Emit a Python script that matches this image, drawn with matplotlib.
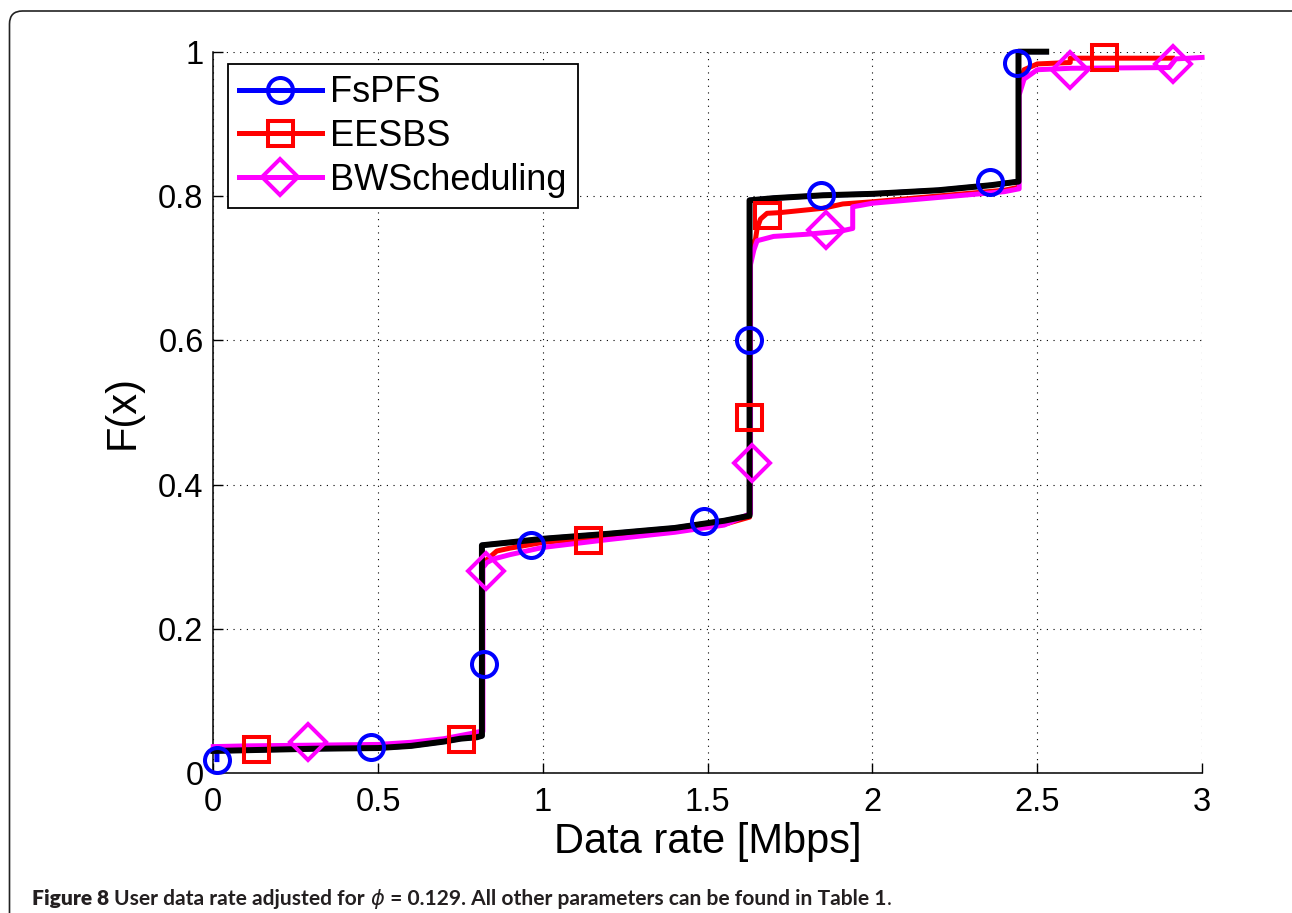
import matplotlib
matplotlib.use("Agg")
import matplotlib.pyplot as plt
from matplotlib import font_manager
from matplotlib.lines import Line2D
from matplotlib.patches import PathPatch
from matplotlib.path import Path
from matplotlib.transforms import IdentityTransform
from matplotlib.ticker import FuncFormatter

plt.rcParams["font.family"] = ["Liberation Sans", "DejaVu Sans"]

# black reference curve (drawn over the FsPFS line)
black_x = [0, 0.1, 0.3, 0.5, 0.6, 0.7, 0.75, 0.8, 0.815, 0.815, 0.9, 1.0, 1.2, 1.4,
           1.55, 1.627, 1.627, 1.7, 1.85, 2.0, 2.2, 2.36, 2.443, 2.443, 2.527]
black_y = [0.031, 0.032, 0.034, 0.035, 0.038, 0.044, 0.048, 0.05, 0.052, 0.316, 0.32,
           0.325, 0.332, 0.34, 0.35, 0.357, 0.794, 0.797, 0.801, 0.803, 0.808, 0.815,
           0.82, 1.0, 1.0]

fspfs_x = [0.011, 0.011] + black_x[1:]
fspfs_y = [0.019, 0.031] + black_y[1:]
fspfs_mx = [0.011, 0.479, 0.822, 0.964, 1.488, 1.625, 1.845, 2.358, 2.438]
fspfs_my = [0.019, 0.037, 0.152, 0.316, 0.349, 0.601, 0.802, 0.819, 0.985]

eesbs_x = [0, 0.1, 0.3, 0.5, 0.6, 0.7, 0.78, 0.815, 0.815, 0.84, 0.86, 0.9, 1.0, 1.2,
           1.4, 1.55, 1.627, 1.627, 1.645, 1.65, 1.66, 1.68, 1.72, 1.85, 1.91, 2.0,
           2.2, 2.4, 2.443, 2.443, 2.46, 2.5, 2.6, 2.6, 2.91]
eesbs_y = [0.033, 0.034, 0.036, 0.038, 0.041, 0.046, 0.052, 0.055, 0.29, 0.30, 0.308,
           0.312, 0.32, 0.328, 0.336, 0.345, 0.355, 0.728, 0.74, 0.755, 0.768, 0.776,
           0.777, 0.783, 0.789, 0.792, 0.8, 0.808, 0.812, 0.95, 0.975, 0.983, 0.985,
           0.991, 0.991]
eesbs_mx = [0.130, 0.75, 1.136, 1.625, 1.681, 2.703]
eesbs_my = [0.034, 0.048, 0.323, 0.494, 0.774, 0.993]

bws_x = [0, 0.1, 0.3, 0.5, 0.6, 0.7, 0.78, 0.81, 0.818, 0.818, 0.83, 0.85, 0.9, 1.0,
         1.2, 1.4, 1.55, 1.63, 1.63, 1.64, 1.65, 1.7, 1.8, 1.9, 1.94, 1.94, 2.0, 2.2,
         2.4, 2.445, 2.445, 2.46, 2.5, 2.6, 2.9, 2.92, 3.0]
bws_y = [0.037, 0.038, 0.039, 0.040, 0.043, 0.048, 0.055, 0.058, 0.058, 0.285, 0.292,
         0.297, 0.303, 0.313, 0.324, 0.334, 0.344, 0.36, 0.705, 0.725, 0.738, 0.744,
         0.747, 0.751, 0.755, 0.785, 0.79, 0.798, 0.806, 0.81, 0.94, 0.962, 0.975,
         0.977, 0.978, 0.99, 0.992]
bws_mx = [0.287, 0.827, 1.635, 1.858, 2.598, 2.913]
bws_my = [0.043, 0.281, 0.43, 0.753, 0.975, 0.983]

x_ticks = [0, 0.5, 1, 1.5, 2, 2.5, 3]
y_ticks = [0, 0.2, 0.4, 0.6, 0.8, 1]

series = [
    ("FsPFS", "blue", "o", fspfs_x, fspfs_y, fspfs_mx, fspfs_my),
    ("EESBS", "red", "s", eesbs_x, eesbs_y, eesbs_mx, eesbs_my),
    ("BWScheduling", "magenta", "D", bws_x, bws_y, bws_mx, bws_my),
]

fig = plt.figure(figsize=(12.92, 9.13), dpi=100)
ax = fig.add_axes([0.1651, 0.1530, 0.7653, 0.7904])

lw = 3.6
ms = 18
mew = 2.9
handles = []
for name, col, mk, xs, ys, mx, my in series:
    ax.plot(xs, ys, color=col, lw=lw, zorder=3, clip_on=False)
    ax.plot(mx, my, ls="none", marker=mk, ms=ms, mfc="none", mec=col, mew=mew,
            zorder=5, clip_on=False)
    handles.append(Line2D([], [], color=col, lw=lw, marker=mk, ms=ms, mfc="none",
                          mec=col, mew=mew, label=name))
ax.plot(black_x, black_y, color="black", lw=4.3, zorder=4, clip_on=False)

ax.set_xlim(0, 3)
ax.set_ylim(0, 1)
ax.set_xticks(x_ticks)
ax.set_yticks(y_ticks)
fmt = FuncFormatter(lambda v, p: f"{v:g}")
ax.xaxis.set_major_formatter(fmt)
ax.yaxis.set_major_formatter(fmt)
ax.tick_params(direction="in", length=7, width=1, labelsize=23.5, top=False, right=False)
ax.tick_params(axis="x", pad=10)
ax.tick_params(axis="y", pad=7)
for s in ["top", "right"]:
    ax.spines[s].set_visible(False)
for s in ["left", "bottom"]:
    ax.spines[s].set_linewidth(1.1)
ax.grid(True, color="black", ls=(0, (1, 5)), lw=0.8)
ax.set_axisbelow(True)

ax.set_xlabel("Data rate [Mbps]", fontsize=30, labelpad=3)
ax.set_ylabel("F(x)", fontsize=30, labelpad=11)

leg = ax.legend(handles=handles, loc="upper left", bbox_to_anchor=(0.0148, 0.9824),
                borderaxespad=0, fontsize=26, numpoints=1, handlelength=2.3,
                handletextpad=0.24, labelspacing=0.24, borderpad=0.3, fancybox=False,
                framealpha=1, edgecolor="black")
leg.get_frame().set_linewidth(1.3)
leg.set_zorder(10)

# rounded frame around the figure, in pixels (origin bottom-left)
fx0, fx1, ftop, r = 9.5, 1340, 902, 13
verts = [(fx0, -5), (fx0, ftop - r), (fx0, ftop), (fx0 + r, ftop),
         (fx1 - r, ftop), (fx1, ftop), (fx1, ftop - r), (fx1, -5)]
codes = [Path.MOVETO, Path.LINETO, Path.CURVE3, Path.CURVE3,
         Path.LINETO, Path.CURVE3, Path.CURVE3, Path.LINETO]
frame = PathPatch(Path(verts, codes), transform=IdentityTransform(), fill=False,
                  ec="#222222", lw=1.2, clip_on=False)
fig.patches.append(frame)

# caption, pieces chained left to right and fitted to the reference width
cap_font = "Open Sans"
for fam in ["Liberation Sans Narrow", "Lato", "Open Sans"]:
    try:
        font_manager.findfont(font_manager.FontProperties(family=fam),
                              fallback_to_default=False)
        cap_font = fam
        break
    except ValueError:
        pass
head_wt = "heavy" if cap_font == "Lato" else "bold"
body_wt = "semibold" if cap_font == "Open Sans" else "bold"
pieces = [
    ("Figure 8 ", head_wt),
    ("User data rate adjusted for ", body_wt),
    (r"$\phi$", "normal"),
    (" = 0.129. All other parameters can be found in Table 1", body_wt),
    (".", "normal"),
]
renderer = fig.canvas.get_renderer()
cap_left, cap_right, cap_base = 32, 897, 905
size = 14.0
for attempt in range(2):
    texts = []
    xpos = cap_left
    for txt, wt in pieces:
        t = fig.text(xpos / 1292, 1 - cap_base / 913, txt, fontsize=size, fontweight=wt,
                     family=[cap_font, "DejaVu Sans"], color="#231f20", va="baseline")
        xpos = t.get_window_extent(renderer).x1
        texts.append(t)
    if attempt == 0:
        size = size * (cap_right - cap_left) / (xpos - cap_left)
        for t in texts:
            t.remove()

fig.savefig("out.png", dpi=100)
